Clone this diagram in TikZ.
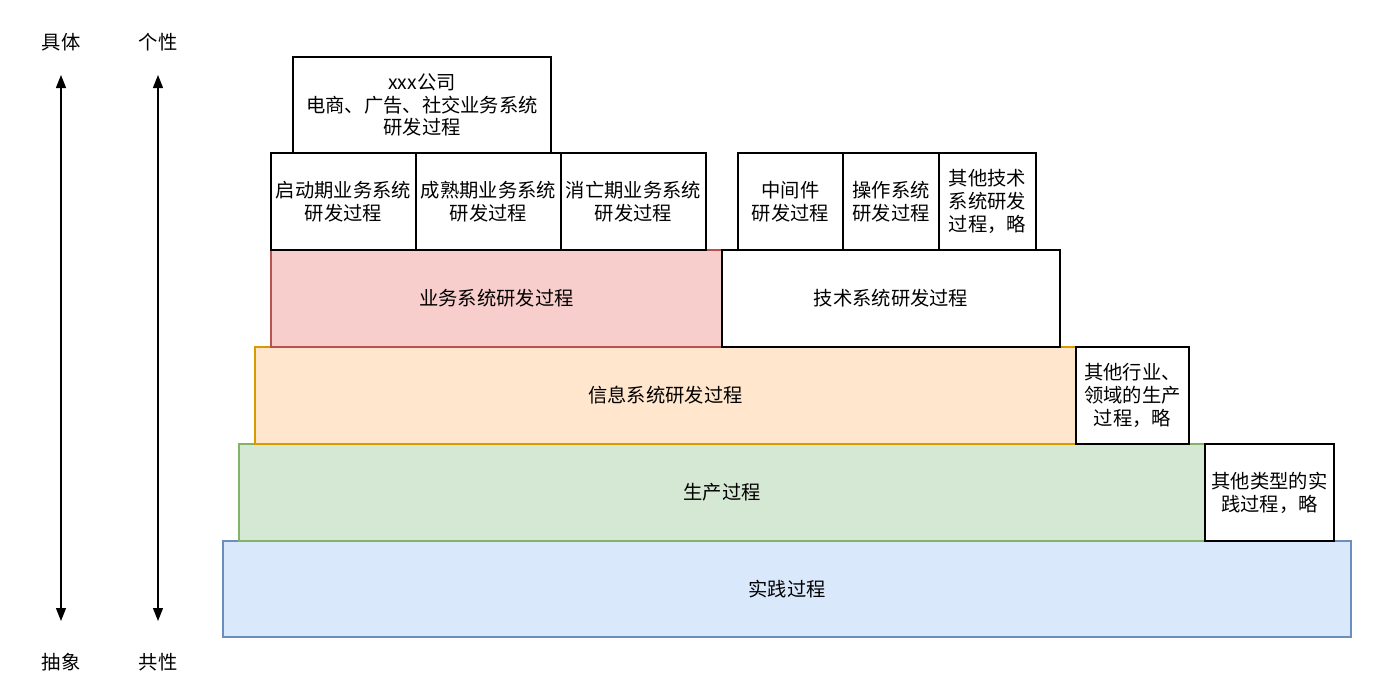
\documentclass[tikz,border=0pt]{standalone}
\usepackage{fontspec}
\setmainfont{Noto Sans CJK SC}
\usetikzlibrary{arrows.meta}
\definecolor{bluef}{HTML}{DAE8FC}\definecolor{blued}{HTML}{6C8EBF}
\definecolor{greenf}{HTML}{D5E8D4}\definecolor{greend}{HTML}{82B366}
\definecolor{orangef}{HTML}{FFE6CC}\definecolor{oranged}{HTML}{D79B00}
\definecolor{redf}{HTML}{F8CECC}\definecolor{redd}{HTML}{B85450}
\newcommand{\bx}[7]{%
  \node[boxstyle,#6,anchor=north west,minimum width=#4pt,minimum height=#5pt] (#1) at (#2,#3) {#7};}
\tikzset{
  boxstyle/.style={draw=black,fill=white,line width=1.2pt,inner sep=0pt,outer sep=0pt,align=center,
    font=\fontsize{19.3}{22.8}\selectfont},
  plain/.style={},
  bluebox/.style={fill=bluef,draw=blued},
  greenbox/.style={fill=greenf,draw=greend},
  orangebox/.style={fill=orangef,draw=oranged},
  redbox/.style={fill=redf,draw=redd},
  axis/.style={line width=1.3pt,-{Triangle[length=13pt,width=10pt]}},
  lbl/.style={font=\fontsize{19.3}{22.8}\selectfont,inner sep=0pt}
}
\begin{document}
\begin{tikzpicture}[x=1pt,y=-1pt]
\useasboundingbox (0,0) rectangle (1400,697);
% axes labels
\node[lbl] (ju) at (61,42) {具体};
\node[lbl] (ge) at (158,42) {个性};
\node[lbl] (chou) at (61,662) {抽象};
\node[lbl] (gong) at (158,662) {共性};
\coordinate (a1m) at (61,348);
\coordinate (a1t) at (61,75);
\coordinate (a1b) at (61,621);
\coordinate (a2t) at (158,75);
\coordinate (a2b) at (158,621);
\coordinate (a2m) at (158,348);
\draw[axis] (a1m) -- (a1t);
\draw[axis] (a1m) -- (a1b);
\draw[axis] (a2m) -- (a2t);
\draw[axis] (a2m) -- (a2b);
% layers
\bx{prac}{223}{541}{1128}{96}{bluebox}{实践过程}
\bx{prod}{239}{444}{966}{97}{greenbox}{生产过程}
\bx{oth2}{1205}{444}{129}{97}{plain}{其他类型的实\\践过程，略}
\bx{info}{255}{347}{821}{97}{orangebox}{信息系统研发过程}
\bx{oth1}{1076}{347}{113}{97}{plain}{其他行业、\\领域的生产\\过程，略}
\bx{biz}{271}{250}{451}{97}{redbox}{业务系统研发过程}
\bx{tech}{722}{250}{338}{97}{plain}{技术系统研发过程}
\bx{s1}{271}{153}{145}{97}{plain}{启动期业务系统\\研发过程}
\bx{s2}{416}{153}{145}{97}{plain}{成熟期业务系统\\研发过程}
\bx{s3}{561}{153}{145}{97}{plain}{消亡期业务系统\\研发过程}
\bx{t1}{738}{153}{105}{97}{plain}{中间件\\研发过程}
\bx{t2}{843}{153}{96}{97}{plain}{操作系统\\研发过程}
\bx{t3}{939}{153}{97}{97}{plain}{其他技术\\系统研发\\过程，略}
\bx{top}{293}{57}{258}{96}{plain}{xxx公司\\电商、广告、社交业务系统\\研发过程}
\end{tikzpicture}
\end{document}
